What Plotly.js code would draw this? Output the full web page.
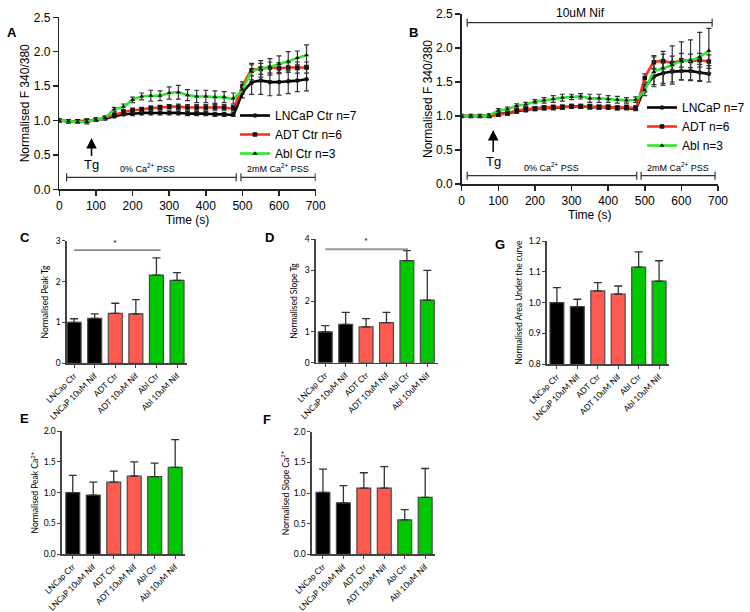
<!DOCTYPE html>
<html><head><meta charset="utf-8">
<script src="https://cdn.plot.ly/plotly-3.0.1.min.js"></script>
<style>html,body{margin:0;padding:0;background:#fff}#chart{width:750px;height:612px}</style>
</head><body><div id="chart"></div>
<script>
// ---- time course data (panel A: control, panel B: 10uM Nif) ----
const time = [0,25,50,75,100,125,150,175,200,225,250,275,300,325,350,375,400,425,450,475,500,525,550,575,600,625,650,675];

const aLncap    = [1.00,0.99,0.99,0.99,1.01,1.03,1.06,1.09,1.10,1.11,1.11,1.11,1.11,1.11,1.10,1.10,1.10,1.09,1.09,1.09,1.40,1.55,1.58,1.56,1.56,1.57,1.58,1.60];
const aLncapErr = [0.02,0.02,0.02,0.02,0.02,0.02,0.02,0.02,0.03,0.03,0.03,0.03,0.03,0.03,0.03,0.03,0.03,0.03,0.03,0.03,0.07,0.17,0.20,0.20,0.19,0.18,0.16,0.17];
const aAdt      = [1.00,0.99,0.99,1.00,1.01,1.04,1.08,1.12,1.15,1.16,1.18,1.19,1.20,1.20,1.19,1.19,1.19,1.19,1.19,1.18,1.50,1.73,1.75,1.77,1.76,1.77,1.77,1.77];
const aAdtErr   = [0.02,0.02,0.02,0.02,0.02,0.02,0.03,0.03,0.03,0.03,0.03,0.03,0.03,0.04,0.04,0.04,0.04,0.04,0.04,0.04,0.06,0.08,0.08,0.08,0.08,0.07,0.08,0.08];
const aAbl      = [1.00,0.99,0.98,0.98,1.01,1.04,1.16,1.20,1.30,1.35,1.36,1.36,1.40,1.41,1.37,1.35,1.35,1.34,1.34,1.32,1.45,1.71,1.75,1.78,1.82,1.86,1.91,1.95];
const aAblErr   = [0.02,0.02,0.02,0.03,0.02,0.02,0.03,0.04,0.04,0.05,0.08,0.07,0.09,0.10,0.08,0.09,0.09,0.09,0.08,0.08,0.05,0.12,0.12,0.12,0.12,0.14,0.10,0.15];

const bLncap    = [1.00,1.00,1.00,1.00,1.03,1.04,1.07,1.09,1.11,1.12,1.12,1.13,1.14,1.14,1.13,1.13,1.13,1.12,1.12,1.11,1.42,1.58,1.63,1.65,1.66,1.66,1.64,1.62];
const bLncapErr = [0.02,0.02,0.02,0.02,0.03,0.03,0.03,0.03,0.03,0.03,0.03,0.03,0.03,0.03,0.03,0.03,0.03,0.03,0.03,0.03,0.07,0.12,0.15,0.15,0.13,0.13,0.12,0.12];
const bAdt      = [1.00,1.00,1.00,1.00,1.02,1.04,1.08,1.10,1.11,1.12,1.13,1.13,1.14,1.14,1.14,1.13,1.13,1.12,1.13,1.12,1.56,1.79,1.81,1.78,1.82,1.81,1.82,1.80];
const bAdtErr   = [0.02,0.02,0.02,0.02,0.02,0.03,0.03,0.03,0.03,0.03,0.03,0.03,0.03,0.03,0.03,0.03,0.03,0.03,0.03,0.03,0.06,0.10,0.10,0.10,0.10,0.10,0.10,0.10];
const bAbl      = [1.00,1.00,1.00,1.01,1.08,1.10,1.15,1.17,1.21,1.23,1.25,1.27,1.28,1.29,1.26,1.26,1.25,1.24,1.23,1.24,1.38,1.65,1.70,1.75,1.81,1.82,1.87,1.96];
const bAblErr   = [0.02,0.02,0.02,0.02,0.03,0.03,0.03,0.03,0.03,0.04,0.05,0.05,0.04,0.04,0.06,0.06,0.05,0.05,0.04,0.04,0.08,0.22,0.25,0.28,0.28,0.30,0.36,0.33];

// ---- bar data ----
const categories = ['LNCap Ctr','LNCaP 10uM Nif','ADT Ctr','ADT 10uM Nif','Abl Ctr','Abl 10uM Nif'];
const peakTg      = [1.00,1.10,1.22,1.21,2.16,2.03];
const peakTgErr   = [0.09,0.11,0.25,0.35,0.42,0.19];
const slopeTg     = [1.00,1.24,1.16,1.30,3.31,2.03];
const slopeTgErr  = [0.20,0.39,0.27,0.33,0.32,0.96];
const auc         = [1.000,0.987,1.038,1.028,1.115,1.070];
const aucErr      = [0.049,0.024,0.027,0.026,0.050,0.066];
const peakCa      = [1.00,0.96,1.17,1.27,1.26,1.41];
const peakCaErr   = [0.28,0.21,0.18,0.23,0.22,0.45];
const slopeCa     = [1.01,0.84,1.08,1.08,0.56,0.93];
const slopeCaErr  = [0.38,0.28,0.25,0.35,0.17,0.47];

// ---- helpers ----
const W = 750, H = 612;
const fx = v => v / W;
const fy = v => 1 - v / H;
const barPos = categories.map((c, i) => i);
const barColors = ['#000000','#000000','#FF5A50','#FF5A50','#00C800','#00C800'];
const BLACK = '#000000', RED = '#FF3019', GREEN = '#2EE82E';
const F_LINE = 'Liberation Sans, Arial, sans-serif';
const F_BAR = 'Lato, Liberation Sans, sans-serif';

function lineTrace(y, err, color, symbol, name, xa, ya, leg) {
  return {
    type: 'scatter', mode: 'lines+markers', x: time, y: y, name: name,
    xaxis: xa, yaxis: ya, legend: leg,
    line: {color: color, width: 2.6, shape: 'spline', smoothing: 0.5},
    marker: {color: '#111', symbol: symbol, size: 4.5},
    error_y: {type: 'data', array: err, visible: true, color: '#333', thickness: 1.2, width: 2.5}
  };
}
function barTrace(vals, errs, xa, ya) {
  return {
    type: 'bar', x: barPos, y: vals, xaxis: xa, yaxis: ya, width: 0.68, showlegend: false,
    marker: {color: barColors, line: {color: '#4a4a4a', width: 1.2}},
    error_y: {type: 'data', symmetric: false, array: errs, arrayminus: errs.map(() => 0),
              color: '#333', thickness: 1.3, width: 4}
  };
}
function lineAxis(extra) {
  return Object.assign({showline: true, linecolor: '#222', linewidth: 1.5, ticks: 'outside', ticklen: 5,
    tickwidth: 1.5, tickcolor: '#222', showgrid: false, zeroline: false,
    tickfont: {family: F_LINE, size: 12, color: '#000'}}, extra);
}
function barXAxis(domain, range, anchor) {
  return {domain: domain, range: range, anchor: anchor, tickvals: barPos, ticktext: categories, tickangle: -45,
    showline: true, linecolor: '#444', linewidth: 1.3, ticks: 'outside', ticklen: 3, tickwidth: 1, tickcolor: '#444',
    showgrid: false, zeroline: false, tickfont: {family: F_BAR, size: 8.3, color: '#000'}};
}
function barYAxis(domain, range, dtick, fmt, anchor, title, standoff) {
  return {domain: domain, range: range, dtick: dtick, tickformat: fmt, anchor: anchor,
    showline: true, linecolor: '#444', linewidth: 1.3, ticks: 'outside', ticklen: 3, tickwidth: 1, tickcolor: '#444',
    showgrid: false, zeroline: false, tickfont: {family: F_BAR, size: 8.5, color: '#000'},
    title: {text: title, standoff: standoff, font: {family: F_BAR, size: 8.5, color: '#000'}}};
}

const data = [
  lineTrace(aLncap, aLncapErr, BLACK, 'circle', 'LNCaP Ctr n=7', 'x', 'y', 'legend'),
  lineTrace(aAdt, aAdtErr, RED, 'square', 'ADT Ctr n=6', 'x', 'y', 'legend'),
  lineTrace(aAbl, aAblErr, GREEN, 'triangle-up', 'Abl Ctr n=3', 'x', 'y', 'legend'),
  lineTrace(bLncap, bLncapErr, BLACK, 'circle', 'LNCaP n=7', 'x2', 'y2', 'legend2'),
  lineTrace(bAdt, bAdtErr, RED, 'square', 'ADT n=6', 'x2', 'y2', 'legend2'),
  lineTrace(bAbl, bAblErr, GREEN, 'triangle-up', 'Abl n=3', 'x2', 'y2', 'legend2'),
  barTrace(peakTg, peakTgErr, 'x3', 'y3'),
  barTrace(slopeTg, slopeTgErr, 'x4', 'y4'),
  barTrace(auc, aucErr, 'x5', 'y5'),
  barTrace(peakCa, peakCaErr, 'x6', 'y6'),
  barTrace(slopeCa, slopeCaErr, 'x7', 'y7')
];

// ---- shapes: brackets and significance lines ----
const shapes = [];
function bracket(xref, x0, x1, pyv) {
  const s = {color: '#333', width: 1.2};
  shapes.push({type: 'line', xref: xref, yref: 'paper', x0: x0, x1: x1, y0: fy(pyv), y1: fy(pyv), line: s});
  shapes.push({type: 'line', xref: xref, yref: 'paper', x0: x0, x1: x0, y0: fy(pyv - 4), y1: fy(pyv + 4), line: s});
  shapes.push({type: 'line', xref: xref, yref: 'paper', x0: x1, x1: x1, y0: fy(pyv - 4), y1: fy(pyv + 4), line: s});
}
bracket('x', 20, 483, 177.3);
bracket('x', 496, 699, 177.3);
bracket('x2', 15, 478, 175.7);
bracket('x2', 490, 692, 175.7);
bracket('x2', 15, 684, 22.7);
shapes.push({type: 'line', xref: 'x3', yref: 'y3', x0: 0, x1: 4.2, y0: 2.77, y1: 2.77, line: {color: '#333', width: 1}});
shapes.push({type: 'line', xref: 'x4', yref: 'y4', x0: 0, x1: 4.05, y0: 3.68, y1: 3.68, line: {color: '#999', width: 2}});

// ---- annotations ----
const letter = (t, x, y) => ({text: '<b>' + t + '</b>', xref: 'paper', yref: 'paper', x: fx(x), y: fy(y),
  showarrow: false, font: {family: F_LINE, size: 13, color: '#000'}});
const smallLbl = (t, xref, x, pyv, size) => ({text: t, xref: xref, yref: 'paper', x: x, y: fy(pyv),
  yanchor: 'bottom', showarrow: false, font: {family: F_LINE, size: size, color: '#000'}});
const annotations = [
  letter('A', 5, 23), letter('B', 413, 23), letter('C', 18, 238), letter('D', 269, 238),
  letter('G', 500, 244), letter('E', 18, 428), letter('F', 267, 429),
  smallLbl('0% Ca<sup>2+</sup> PSS', 'x', 242, 176.5, 9),
  smallLbl('2mM Ca<sup>2+</sup> PSS', 'x', 598, 176.5, 9),
  smallLbl('0% Ca<sup>2+</sup> PSS', 'x2', 245, 175, 9),
  smallLbl('2mM Ca<sup>2+</sup> PSS', 'x2', 590, 175, 9),
  smallLbl('10uM Nif', 'x2', 324, 22.5, 12),
  {text: 'Tg', xref: 'x', yref: 'paper', x: 88, y: fy(138), ax: 0, ay: 27, showarrow: true,
   arrowhead: 2, arrowsize: 1.4, arrowwidth: 1.5, arrowcolor: '#000', standoff: 0,
   font: {family: F_LINE, size: 13, color: '#000'}},
  {text: 'Tg', xref: 'x2', yref: 'paper', x: 86, y: fy(130), ax: 0, ay: 31, showarrow: true,
   arrowhead: 2, arrowsize: 1.4, arrowwidth: 1.5, arrowcolor: '#000', standoff: 0,
   font: {family: F_LINE, size: 13, color: '#000'}},
  {text: '*', xref: 'x3', yref: 'y3', x: 2, y: 2.93, showarrow: false, font: {family: F_BAR, size: 9, color: '#000'}},
  {text: '*', xref: 'x4', yref: 'y4', x: 2, y: 3.92, showarrow: false, font: {family: F_BAR, size: 9, color: '#000'}}
];

const layout = {
  width: W, height: H, margin: {l: 0, r: 0, t: 0, b: 0},
  paper_bgcolor: '#fff', plot_bgcolor: 'rgba(0,0,0,0)',
  font: {family: F_LINE, color: '#000'},
  xaxis: lineAxis({domain: [fx(59.3), fx(315.7)], range: [0, 700], dtick: 100, anchor: 'y',
    title: {text: 'Time (s)', standoff: 2, font: {family: F_LINE, size: 12}}}),
  yaxis: lineAxis({domain: [fy(189.3), fy(17.3)], range: [0, 2.5], dtick: 0.5, tickformat: '.1f', anchor: 'x',
    title: {text: 'Normalised F 340/380', standoff: 1, font: {family: F_LINE, size: 12}}}),
  xaxis2: lineAxis({domain: [fx(461.7), fx(718)], range: [0, 700], dtick: 100, anchor: 'y2',
    title: {text: 'Time (s)', standoff: 2, font: {family: F_LINE, size: 12}}}),
  yaxis2: lineAxis({domain: [fy(184), fy(14)], range: [0, 2.5], dtick: 0.5, tickformat: '.1f', anchor: 'x2',
    title: {text: 'Normalised F 340/380', standoff: 1, font: {family: F_LINE, size: 12}}}),
  xaxis3: barXAxis([fx(66.7), fx(186.7)], [-0.36, 5.47], 'y3'),
  yaxis3: barYAxis([fy(363.3), fy(240.7)], [0, 3], 1, '', 'x3', 'Normalised Peak Tg', 5),
  xaxis4: barXAxis([fx(315.7), fx(437.7)], [-0.47, 5.51], 'y4'),
  yaxis4: barYAxis([fy(362.7), fy(239.3)], [0, 4], 1, '', 'x4', 'Normalised Slope Tg', 5),
  xaxis5: barXAxis([fx(546.7), fx(669.3)], [-0.5, 5.5], 'y5'),
  yaxis5: barYAxis([fy(364.3), fy(241)], [0.8, 1.2], 0.1, '.1f', 'x5', 'Normalised Area Under the curve', 4),
  xaxis6: barXAxis([fx(61.7), fx(185)], [-0.54, 5.48], 'y6'),
  yaxis6: barYAxis([fy(554.3), fy(431)], [0, 2], 0.5, '.1f', 'x6', 'Normalised Peak Ca<sup>2+</sup>', 3),
  xaxis7: barXAxis([fx(311.7), fx(435)], [-0.55, 5.48], 'y7'),
  yaxis7: barYAxis([fy(554.3), fy(431.7)], [0, 2], 0.5, '.1f', 'x7', 'Normalised Slope Ca<sup>2+</sup>', 3),
  legend: {x: fx(235), y: fy(101), xanchor: 'left', yanchor: 'top', bgcolor: 'rgba(0,0,0,0)',
    font: {family: F_LINE, size: 12, color: '#000'}, itemwidth: 30, tracegroupgap: 0},
  legend2: {x: fx(642), y: fy(93), xanchor: 'left', yanchor: 'top', bgcolor: 'rgba(0,0,0,0)',
    font: {family: F_LINE, size: 12, color: '#000'}, itemwidth: 30, tracegroupgap: 0},
  shapes: shapes,
  annotations: annotations,
  showlegend: true
};

Plotly.newPlot('chart', data, layout, {displayModeBar: false, staticPlot: true});
</script>
</body></html>
